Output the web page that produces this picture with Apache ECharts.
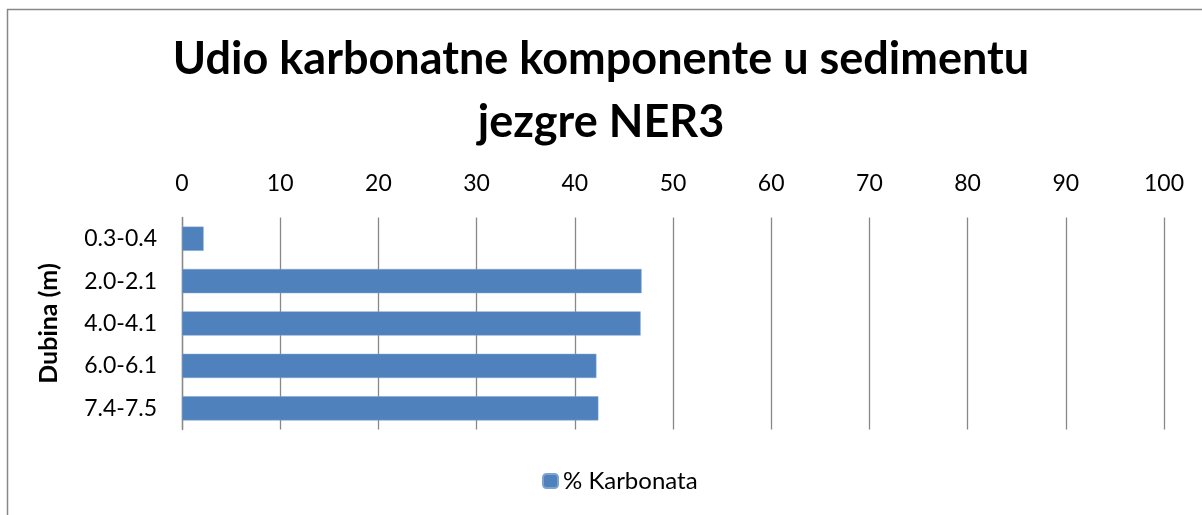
<!DOCTYPE html>
<html>
<head>
<meta charset="utf-8">
<script src="https://cdn.jsdelivr.net/npm/echarts@6/dist/echarts.min.js"></script>
<style>
  html, body { margin: 0; padding: 0; background: #fff; }
  #container { width: 1202px; height: 515px; }
</style>
</head>
<body>
<div id="container"></div>
<script>
var depths = ['0.3-0.4', '2.0-2.1', '4.0-4.1', '6.0-6.1', '7.4-7.5'];
var carbonate = [2.2, 46.8, 46.7, 42.2, 42.4];
var seriesName = '% Karbonata';

var chart = echarts.init(document.getElementById('container'));
var font = 'Lato, "Open Sans", sans-serif';

var option = {
    animation: false,
    backgroundColor: '#fff',
    textStyle: { fontFamily: font },
    title: {
        text: 'Udio karbonatne komponente u sedimentu\njezgre NER3',
        left: 'center',
        top: 23,
        textStyle: {
            fontFamily: font,
            fontSize: 45,
            fontWeight: 'bold',
            color: '#000',
            lineHeight: 63
        }
    },
    // chart frame, runs past the right and bottom edge like the source
    graphic: [{
        type: 'rect',
        shape: { x: 7.5, y: 9.5, width: 1300, height: 600 },
        style: { fill: 'none', stroke: '#888', lineWidth: 1.5 },
        silent: true
    }],
    legend: {
        bottom: 17,
        left: 537,
        itemWidth: 15,
        itemHeight: 14,
        itemGap: 6,
        textStyle: { fontSize: 24, color: '#000', fontFamily: font },
        data: [seriesName]
    },
    grid: {
        left: 182,
        right: 38,
        top: 217.5,
        bottom: 85.5
    },
    xAxis: {
        type: 'value',
        position: 'top',
        min: 0,
        max: 100,
        interval: 10,
        axisLine: { show: false },
        axisTick: { show: false },
        axisLabel: { fontSize: 23, color: '#000', margin: 22 },
        splitLine: { show: true, lineStyle: { color: '#888', width: 1.3 } }
    },
    yAxis: {
        type: 'category',
        inverse: true,
        data: depths,
        name: 'Dubina (m)',
        nameLocation: 'middle',
        nameGap: 121,
        nameRotate: 90,
        nameTextStyle: { fontSize: 25, fontWeight: 'bold', color: '#000' },
        axisLine: { show: true, lineStyle: { color: '#888', width: 1.3 } },
        axisTick: { show: false },
        axisLabel: { fontSize: 23, color: '#000', margin: 25 }
    },
    series: [{
        name: seriesName,
        type: 'bar',
        data: carbonate,
        barWidth: '57%',
        itemStyle: { color: '#4F81BD', borderColor: '#7FA3CF', borderWidth: 0.5 }
    }]
};

chart.setOption(option);
</script>
</body>
</html>
